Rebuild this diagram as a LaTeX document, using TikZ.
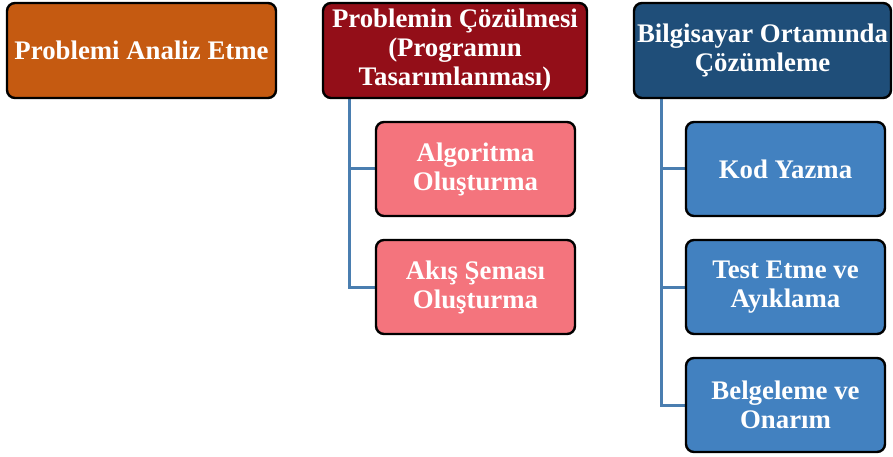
\documentclass[tikz,border=0pt]{standalone}
\usepackage{fontspec}
\setmainfont{Liberation Serif}
\definecolor{turuncu}{HTML}{C55A11}
\definecolor{bordo}{HTML}{930E18}
\definecolor{lacivert}{HTML}{1F4E79}
\definecolor{pembe}{HTML}{F4747D}
\definecolor{mavi}{HTML}{4281C0}
\definecolor{baglanti}{HTML}{4A7EB0}
\begin{document}
\begin{tikzpicture}[x=1pt,y=1pt,
  kutu/.style={draw=black, line width=2.4pt, rounded corners=8pt, text=white,
    align=center, inner sep=0pt,
    font=\fontsize{26.8}{29}\selectfont\bfseries},
  ana/.style={kutu, minimum height=95pt},
  alt/.style={kutu, minimum width=199pt, minimum height=94pt},
  hat/.style={color=baglanti, line width=3pt}]
\useasboundingbox (0,0) rectangle (893,-457);

% baglantilar (kutularin altinda)
\coordinate (c2) at (349,-97);
\coordinate (c3) at (661,-97);
\draw[hat] (c2) |- (475,-169) coordinate (a2);
\draw[hat] (c2) |- (475,-287) coordinate (b2);
\draw[hat] (c3) |- (785,-169) coordinate (a3);
\draw[hat] (c3) |- (785,-287) coordinate (b3);
\draw[hat] (c3) |- (785,-405) coordinate (d3);

% ana basliklar
\node[ana, fill=turuncu, minimum width=269pt] (analiz) at (141.5,-50.5) {Problemi Analiz Etme};
\node[ana, fill=bordo, minimum width=264pt] (cozum) at (455,-50.5) {Problemin Çözülmesi\\(Programın\\Tasarımlanması)};
\node[ana, fill=lacivert, minimum width=257pt] (bilgisayar) at (762.5,-50.5) {Bilgisayar Ortamında\\Çözümleme};

% ikinci sutun
\node[alt, fill=pembe] (algoritma) at (475.5,-169) {Algoritma\\Oluşturma};
\node[alt, fill=pembe] (akis) at (475.5,-287) {Akış Şeması\\Oluşturma};

% ucuncu sutun
\node[alt, fill=mavi] (kod) at (785.5,-169) {Kod Yazma};
\node[alt, fill=mavi] (test) at (785.5,-287) {Test Etme ve\\Ayıklama};
\node[alt, fill=mavi] (belge) at (785.5,-405) {Belgeleme ve\\Onarım};
\end{tikzpicture}
\end{document}
